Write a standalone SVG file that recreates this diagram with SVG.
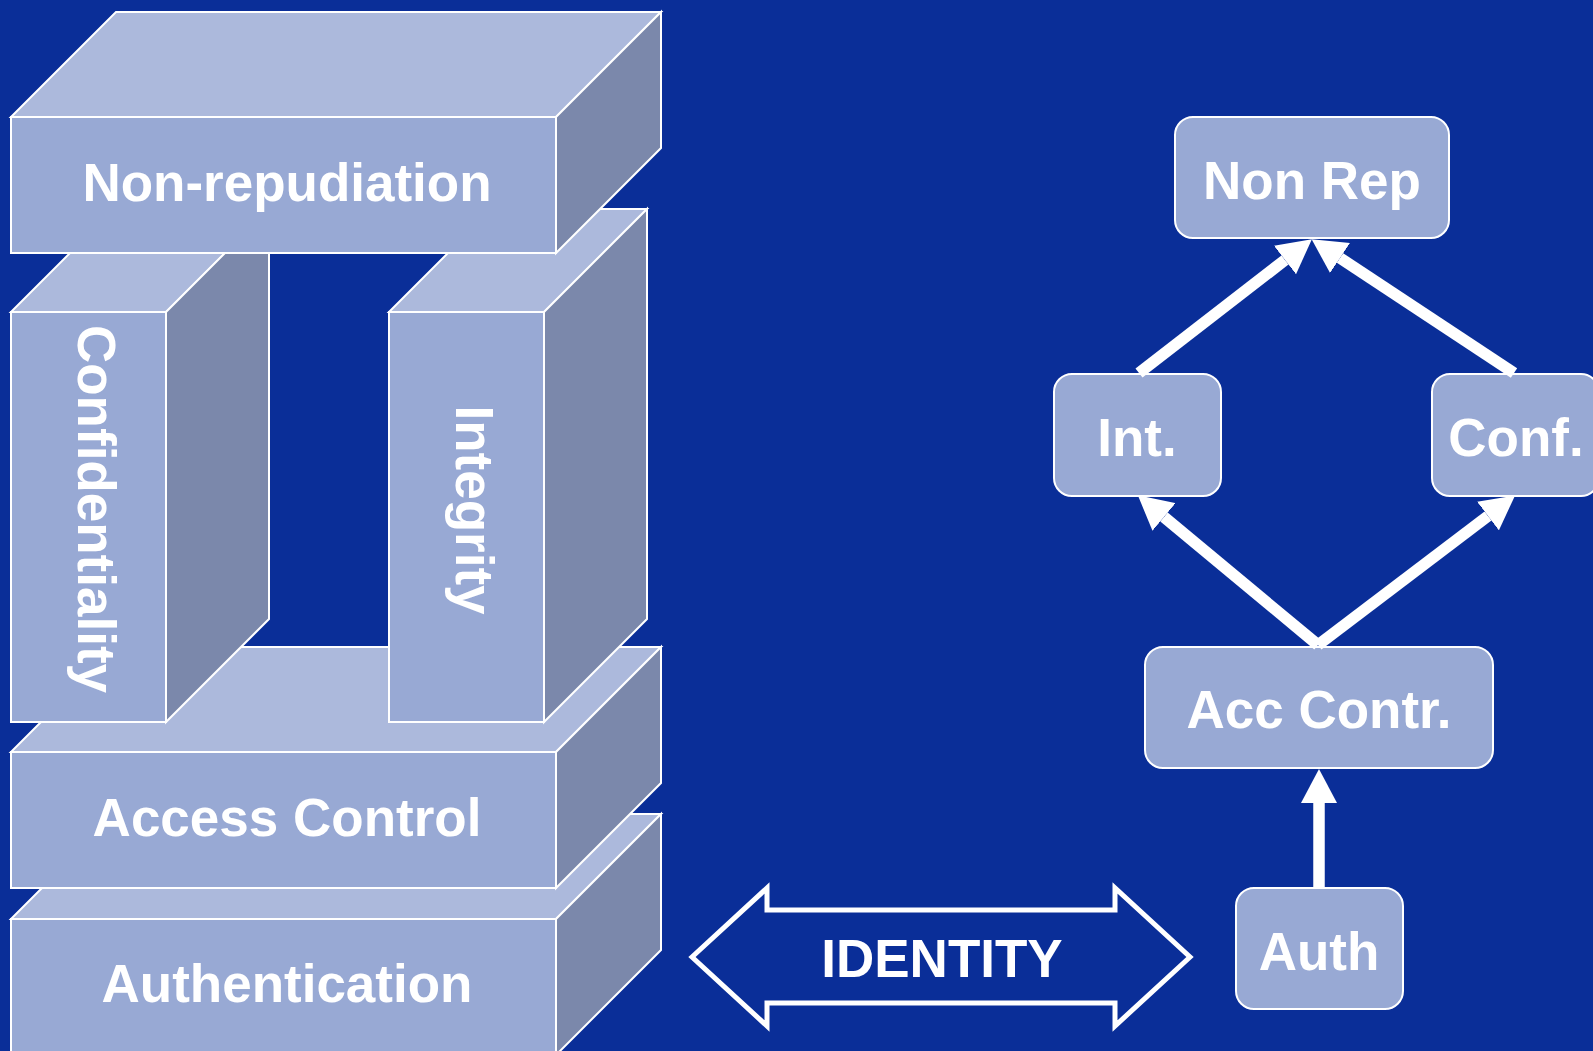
<svg xmlns="http://www.w3.org/2000/svg" width="1593" height="1051" viewBox="0 0 1593 1051">
<style>
  .front { fill: #98A9D4; stroke: #FFFFFF; stroke-width: 2; stroke-linejoin: miter; }
  .top { fill: #ACB9DC; stroke: #FFFFFF; stroke-width: 2; }
  .side { fill: #7B88AB; stroke: #FFFFFF; stroke-width: 2; }
  .box { fill: #98A9D4; stroke: #FFFFFF; stroke-width: 2; }
  .lbl { font-family: "Liberation Sans", Arial, sans-serif; font-weight: bold; font-size: 53px; fill: #FFFFFF; text-anchor: middle; }
  .conn { stroke: #FFFFFF; stroke-width: 11.5; fill: none; marker-end: url(#head); }
</style>
<defs>
  <marker id="head" markerUnits="userSpaceOnUse" viewBox="0 0 34 36" markerWidth="34" markerHeight="36" refX="0" refY="18" orient="auto">
    <path d="M0,0 L34,18 L0,36 Z" fill="#FFFFFF"/>
  </marker>
</defs>
<rect x="0" y="0" width="1593" height="1051" fill="#0A2E98"/>

<g id="authentication">
  <polygon class="top" points="11,919 116,814 661,814 556,919"/>
  <polygon class="side" points="556,919 661,814 661,950 556,1055"/>
  <rect class="front" x="11" y="919" width="545" height="136"/>
  <text class="lbl" x="287" y="1002">Authentication</text>
</g>

<g id="access-control">
  <polygon class="top" points="11,752 116,647 661,647 556,752"/>
  <polygon class="side" points="556,752 661,647 661,783 556,888"/>
  <rect class="front" x="11" y="752" width="545" height="136"/>
  <text class="lbl" x="287" y="836">Access Control</text>
</g>

<g id="confidentiality">
  <polygon class="top" points="11,312 114,209 269,209 166,312"/>
  <polygon class="side" points="166,312 269,209 269,619 166,722"/>
  <rect class="front" x="11" y="312" width="155" height="410"/>
  <text class="lbl" transform="translate(78,509) rotate(90)">Confidentiality</text>
</g>

<g id="integrity">
  <polygon class="top" points="389,312 492,209 647,209 544,312"/>
  <polygon class="side" points="544,312 647,209 647,619 544,722"/>
  <rect class="front" x="389" y="312" width="155" height="410"/>
  <text class="lbl" transform="translate(456,510) rotate(90)">Integrity</text>
</g>

<g id="non-repudiation">
  <polygon class="top" points="11,117 116,12 661,12 556,117"/>
  <polygon class="side" points="556,117 661,12 661,148 556,253"/>
  <rect class="front" x="11" y="117" width="545" height="136"/>
  <text class="lbl" x="287" y="201">Non-repudiation</text>
</g>

<g id="identity-arrow">
  <path d="M692,957 L767,888 L767,910 L1115,910 L1115,888 L1190,957 L1115,1026 L1115,1003 L767,1003 L767,1026 Z" fill="none" stroke="#FFFFFF" stroke-width="5" stroke-linejoin="miter"/>
  <text class="lbl" x="942" y="977">IDENTITY</text>
</g>

<g id="node-nonrep">
  <rect class="box" x="1175" y="117" width="274" height="121" rx="18" ry="18"/>
  <text class="lbl" x="1312" y="199">Non Rep</text>
</g>
<g id="node-int">
  <rect class="box" x="1054" y="374" width="167" height="122" rx="18" ry="18"/>
  <text class="lbl" x="1137" y="456">Int.</text>
</g>
<g id="node-conf">
  <rect class="box" x="1432" y="374" width="167" height="122" rx="18" ry="18"/>
  <text class="lbl" x="1516" y="456">Conf.</text>
</g>
<g id="node-acccontr">
  <rect class="box" x="1145" y="647" width="348" height="121" rx="18" ry="18"/>
  <text class="lbl" x="1319" y="728">Acc Contr.</text>
</g>
<g id="node-auth">
  <rect class="box" x="1236" y="888" width="167" height="121" rx="18" ry="18"/>
  <text class="lbl" x="1319" y="970">Auth</text>
</g>

<g id="connectors">
  <line class="conn" x1="1319" y1="887" x2="1319" y2="803"/>
  <line class="conn" x1="1318" y1="645" x2="1164" y2="517"/>
  <line class="conn" x1="1318" y1="645" x2="1488" y2="516"/>
  <line class="conn" x1="1139" y1="373" x2="1285" y2="260"/>
  <line class="conn" x1="1514" y1="373" x2="1340" y2="258"/>
</g>
</svg>
